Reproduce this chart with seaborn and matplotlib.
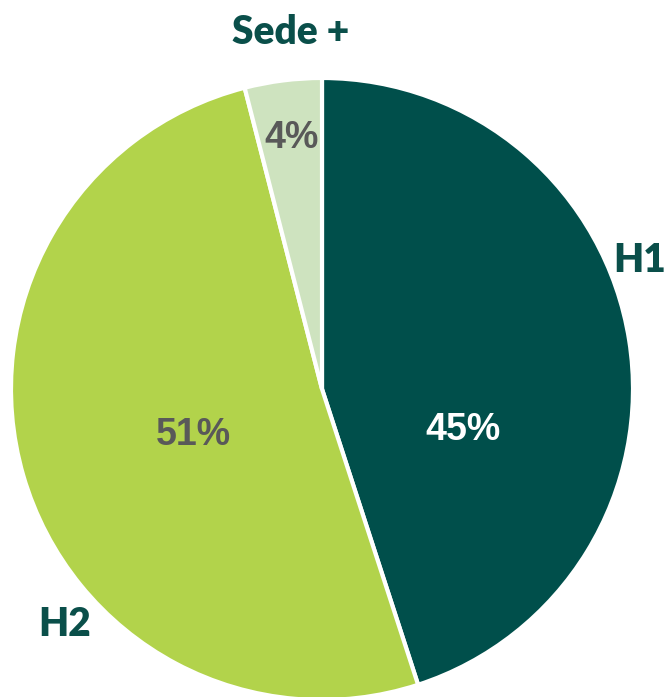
# Pie chart: share by unit (H1, H2, Sede +)
import matplotlib
matplotlib.use('Agg')
import matplotlib.pyplot as plt
import seaborn as sns

sns.set_theme(style = 'white')

# Data
units = ['H1', 'H2', 'Sede +']
shares = [45, 51, 4]
pct_labels = ['45%', '51%', '4%']
colors = ['#004f4b', '#b2d34b', '#cee3bf']
pct_colors = ['white', '#595959', '#595959']

fig = plt.figure(figsize = (6.65, 6.97), dpi = 100)
ax = fig.add_axes([0, 0, 1, 1])

wedges, _ = ax.pie(shares, colors = colors, startangle = 90, counterclock = False,
                   center = (322, 308), radius = 311, frame = True,
                   wedgeprops = {'edgecolor': 'white', 'linewidth': 3})
ax.set_xlim(0, 665)
ax.set_ylim(0, 697)
ax.axis('off')

# category labels (placed by hand like the original)
label_pos = {'H1': (640, 437), 'H2': (65, 72), 'Sede +': (291, 664)}
for name in units:
    x, y = label_pos[name]
    ax.text(x, y, name, ha = 'center', va = 'center', fontsize = 28,
            fontweight = 'heavy', family = 'Lato', color = '#0a4f4a')

# percentage labels
pct_pos = [(463, 267), (193, 262), (292, 559)]
for (x, y), s, c in zip(pct_pos, pct_labels, pct_colors):
    ax.text(x, y, s, ha = 'center', va = 'center', fontsize = 27,
            fontweight = 'bold', family = 'Liberation Sans', color = c)

fig.savefig('out.png', dpi = 100)
